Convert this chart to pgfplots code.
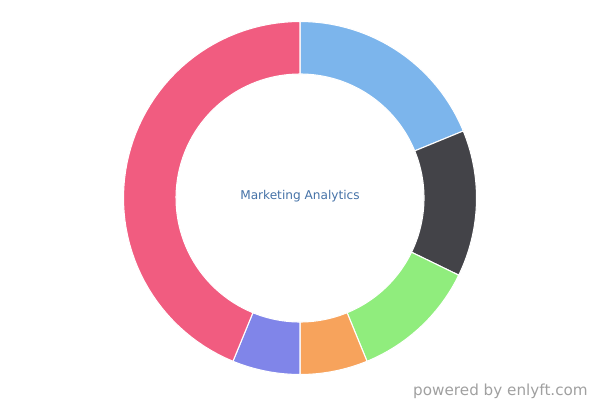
\documentclass[border=0pt]{standalone}
\usepackage{pgfplots}
\pgfplotsset{compat=1.18}
\usepackage{fontspec}
\setmainfont{DejaVu Sans}
\definecolor{c1}{HTML}{7CB5EC}
\definecolor{c2}{HTML}{434348}
\definecolor{c3}{HTML}{90ED7D}
\definecolor{c4}{HTML}{F7A35C}
\definecolor{c5}{HTML}{8085E9}
\definecolor{c6}{HTML}{F15C80}
\definecolor{titlecol}{HTML}{4572A7}
\definecolor{credit}{HTML}{A0A0A0}
% share of each slice, in percent (clockwise from the top)
% blue 18.8, dark 13.4, green 11.6, orange 6.2, purple 6.2, pink 43.8
\newcommand\slice[3]{%
  \addplot[fill=#3, draw=white, line width=0.8pt, domain=0:4, samples=241, variable=\t]
  ({(176.5-52.5*clampf(\t-1)+52.5*clampf(\t-3))*cos(90-3.6*(#1+(#2-#1)*(clampf(\t)-clampf(\t-2))))},
   {(176.5-52.5*clampf(\t-1)+52.5*clampf(\t-3))*sin(90-3.6*(#1+(#2-#1)*(clampf(\t)-clampf(\t-2))))});}
\begin{document}
\begin{tikzpicture}
\path[use as bounding box] (0,0) rectangle (450pt,300pt);
\begin{axis}[
  at={(0,0)}, anchor=south west,
  scale only axis, width=450pt, height=300pt,
  xmin=-300, xmax=300, ymin=-202, ymax=198,
  hide axis, clip=false,
  declare function={clampf(\x)=max(0,min(1,\x));},
]
\slice{0}{18.8}{c1}
\slice{18.8}{32.2}{c2}
\slice{32.2}{43.8}{c3}
\slice{43.8}{50.0}{c4}
\slice{50.0}{56.2}{c5}
\slice{56.2}{100}{c6}
\node[font=\fontsize{9.1pt}{11pt}\selectfont, text=titlecol] at (axis cs:0,2) {Marketing Analytics};
\node[font=\fontsize{11.4pt}{13pt}\selectfont, text=credit, anchor=base east, inner sep=0pt] at (axis cs:288,-197) {powered by enlyft.com};
\end{axis}
\end{tikzpicture}
\end{document}
